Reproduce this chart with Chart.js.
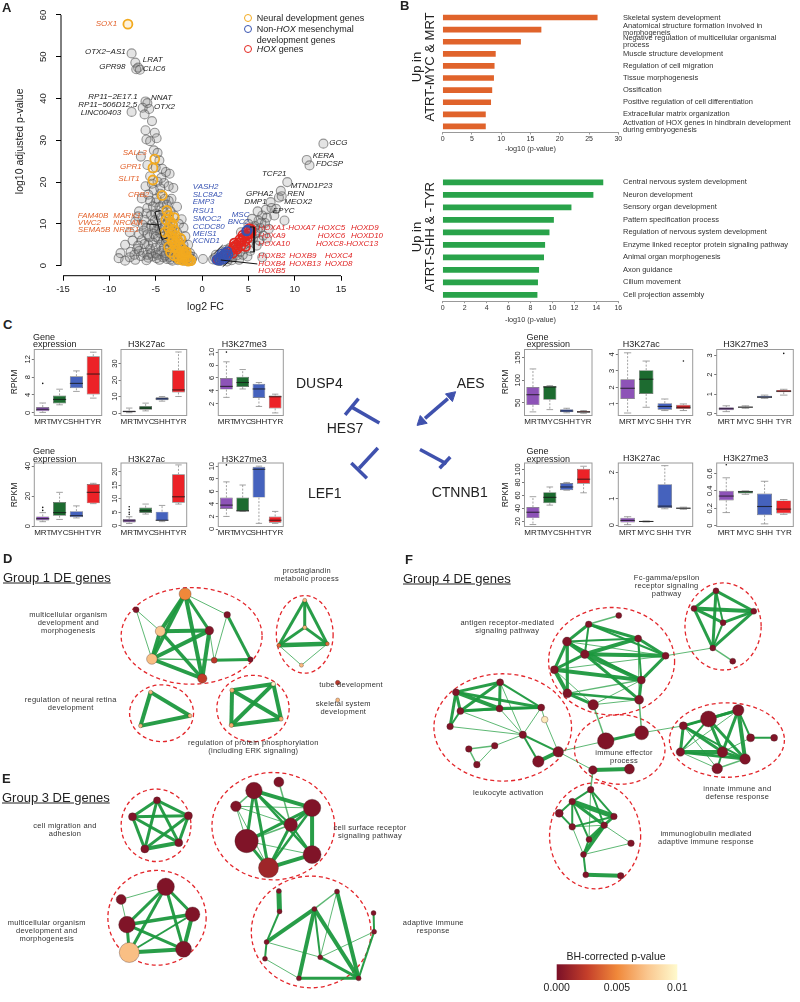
<!DOCTYPE html>
<html>
<head>
<meta charset="utf-8">
<script src="https://cdn.jsdelivr.net/npm/chart.js@4.4.1/dist/chart.umd.min.js"></script>
<style>
  body { margin: 0; background: #fff; }
  #page { position: relative; width: 800px; height: 1002px; overflow: hidden;
          font-family: "Liberation Sans", Arial, sans-serif; color: #222; }
  canvas { position: absolute; }
  .t { position: absolute; white-space: nowrap; line-height: 1; }
  .c { transform: translate(-50%, -50%); text-align: center; }
  .m { transform: translateY(-50%); }
  .net { font-size: 7.5px; line-height: 8px; letter-spacing: 0.25px; color: #333; }
</style>
</head>
<body>
<div id="page"></div>
<script>
// ---------- A: volcano, [log2 FC, log10 adjusted p] ----------
const greyGenes = [
  [-7.6,50.8],[-7.2,48.6],[-6.9,47.4],[-7.1,47.0],[-6.7,46.9],[-6.1,39.3],[-5.9,38.9],[-6.4,37.8],
  [-5.7,37.5],[-7.6,36.8],[-6.2,36.2],[-5.4,34.6],[-6.1,32.4],[-5.1,31.8],[-6.0,30.2],[-4.9,30.5],
  [-5.6,29.8],[-5.2,27.6],[-4.8,27.0],[-6.6,26.1],[-4.6,25.2],[-5.9,24.1],[-4.3,23.2],[-3.9,22.4],
  [-5.6,21.4],[-3.5,22.0],[-4.8,20.1],[-4.1,19.8],[-6.1,19.0],[-3.6,19.0],[-5.2,18.1],[-3.1,18.6],
  [-4.5,17.2],[-6.5,16.1],[-3.3,16.0],[-5.0,15.1],[-3.8,14.6],[-2.7,14.1],[-6.8,13.0],[-4.2,13.1],
  [-5.5,12.1],[-3.0,12.0],[-2.2,11.1],[-7.2,10.5],[-4.8,10.1],[-6.0,9.1],[-3.5,9.0],[-2.0,9.1],
  [-7.8,8.0],[-5.2,7.6],[-4.0,7.1],[-1.8,7.0],[-6.5,6.1],[-3.0,6.0],[-8.3,5.0],[-5.8,5.1],
  [-4.5,5.0],[-2.0,5.0],[-1.5,5.0],[-7.0,4.0],[-3.5,4.1],[-8.8,3.0],[-6.3,3.1],[-5.0,3.0],
  [-2.6,3.0],[-1.3,3.0],[-7.8,2.0],[-4.2,2.0],[-1.0,2.1],[-8.3,1.2],[-6.0,1.3],[-3.2,1.2],
  [-1.2,1.2],[0.1,1.6],[-9.0,1.8],[-4.4,11.5],[-3.7,10.5],[-2.7,8.0],[-4.9,8.5],[-3.2,5.0],
  [-2.3,4.0],[-1.7,2.5],[-3.9,3.0],[-5.5,9.8],[-4.6,14.0],[-5.8,17.0],[-3.4,13.0],[-2.5,10.0],
  [-4.0,16.0],[-5.0,12.5],[-6.2,11.0],[-6.8,7.5],[-7.5,6.0],[-5.6,4.0],[-2.9,2.0],[-3.6,7.8],
  [-4.3,9.0],[-4.7,6.5],[-5.3,5.5],[-4.1,4.4],[-3.3,2.6],[-2.1,1.5],[-1.6,1.8],[-2.4,2.2],
  [-3.8,1.6],[-4.6,1.4],[-5.3,2.2],[-6.6,2.3],[-7.2,1.4],[-2.8,4.6],[-3.9,5.8],[-4.5,7.8],
  [-5.1,10.9],[-5.9,13.8],[-6.3,8.4],[-5.7,6.8],[-6.9,4.8],[-2.2,6.2],[-1.9,3.8],[-3.1,9.6],
  [-3.9,12.0],[-4.9,16.0],[-5.4,19.6],[-4.4,21.0],[-5.0,23.5],[-6.9,11.8],[-7.7,3.3],[-5.9,2.6],
  [-1.9,1.2],[-2.6,1.3],[-3.4,1.5],[-4.0,2.4],[-4.8,2.6],[-2.2,3.1],[-3.0,3.5],[-3.7,3.8],
  [-4.4,3.5],[-5.0,4.3],[-2.5,5.5],[-3.4,5.6],[-4.2,6.0],[-5.0,6.9],[-2.9,6.8],[-3.8,6.6],
  [-4.6,8.8],[-3.2,8.2],[-4.0,9.8],[-5.2,9.2],[-3.6,11.2],[-4.7,12.2],[-4.2,14.8],[-5.3,14.2],
  [-3.6,15.5],[-4.5,18.5],[-5.6,15.5],[-6.0,12.5],[-6.4,9.8],[-5.9,7.5],[-6.2,5.2],[-5.5,2.9],
  [-6.8,3.5],[-7.3,2.6],[-1.4,2.4],[-2.7,2.6],[-3.5,2.1],[-4.9,1.8],[-5.8,1.9],[-1.1,1.6],
  [1.2,1.5],[1.8,1.1],[2.3,2.6],[2.9,1.6],[3.4,3.0],[3.0,4.2],[3.9,4.8],[4.3,6.2],[4.8,7.2],
  [5.2,8.5],[5.7,9.5],[6.1,10.8],[6.5,12.0],[6.9,13.4],[7.4,15.2],[7.0,11.5],[6.3,9.0],[5.5,6.5],
  [4.6,4.0],[3.8,2.5],[4.9,2.2],[6.8,10.2],[7.8,12.0],[8.3,16.3],[8.6,16.6],[8.5,17.9],[9.2,20.0],
  [11.3,25.3],[11.6,24.0],[13.1,29.2],[2.0,1.8],[2.6,3.8],[6.0,13.0],[7.2,8.8],[5.0,10.0],[4.2,8.0],
  [3.5,5.5],[8.0,13.6],[6.6,7.2],[5.9,4.8],[4.0,1.4],[1.5,2.6],[2.7,1.0],[7.5,13.8],[5.4,11.2],
  [6.2,6.0],[3.2,1.3],[5.2,3.5],[4.4,2.6],[7.0,6.5],[8.9,10.8],[6.5,2.0],
  [1.4,1.9],[2.1,1.2],[2.5,1.9],[3.0,2.4],[3.6,3.6],[4.1,3.3],[4.5,5.0],[5.0,5.5],[5.3,7.0],
  [5.8,7.8],[6.0,8.4],[3.3,2.0],[2.2,3.2],[6.4,10.3],[5.6,8.9]
];
const neuralGenes = [
  [-8.0,57.8],[-5.1,25.5],[-5.3,23.4],[-5.3,20.5],[-4.3,16.8],[-3.8,13.2],[-3.6,12.0],[-3.9,11.0],
  [-3.4,10.5],[-3.2,9.8],[-3.6,9.0],[-3.0,8.5],[-3.3,7.8],[-2.8,7.2],[-3.1,6.5],[-2.6,6.0],
  [-2.9,5.3],[-2.4,5.0],[-3.6,4.5],[-2.2,4.2],[-2.7,3.8],[-2.0,3.5],[-2.4,3.0],[-1.8,2.8],
  [-2.2,2.3],[-1.6,2.0],[-1.9,1.7],[-1.4,1.5],[-1.2,1.2],[-2.5,1.6],[-3.0,2.4],[-3.4,3.2],
  [-2.9,4.6],[-2.6,2.2],[-1.5,1.1],[-2.1,1.3],[-3.2,5.8],[-3.5,7.0],[-2.0,2.7],[-1.7,3.3],
  [-2.3,6.5],[-4.0,8.0],[-3.0,11.5]
];
const mesenchymalGenes = [
  [1.6,1.4],[1.8,1.7],[2.0,2.0],[2.2,2.3],[2.4,2.6],[2.5,3.0],[2.7,3.4],[1.9,1.3],[2.3,1.6],
  [2.6,2.1],[2.1,2.8],[2.8,2.6],[4.8,8.3],[4.9,8.5]
];
const hoxGenes = [
  [1.7,1.5],[2.6,3.0],[3.1,3.5],[3.4,4.5],[3.7,5.0],[4.0,5.5],[4.3,6.0],[4.5,6.8],[4.8,7.2],
  [5.0,7.6],[5.2,8.3],[5.3,8.7],[4.6,5.8],[4.2,4.7],[3.8,4.0],[3.3,3.0],[5.1,8.9],[4.9,6.5],
  [3.6,4.3],[4.4,7.3],[5.3,7.8],[4.1,6.3],[3.5,5.4],[4.7,4.6]
];
const orangeText = '#e3632d', blueText = '#3a55b4', redText = '#e02424', blackText = '#222';
const geneLabels = [
  ['SOX1',-11.47,57.85,orangeText],['OTX2−AS1',-12.63,51.1,blackText],['LRAT',-6.4,49.2,blackText],
  ['GPR98',-11.1,47.6,blackText],['CLIC6',-6.4,47.2,blackText],['RP11−2E17.1',-12.27,40.45,blackText],
  ['NNAT',-5.5,40.2,blackText],['RP11−506D12.5',-13.35,38.6,blackText],['OTX2',-5.18,38.0,blackText],
  ['LINC00403',-13.1,36.7,blackText],['SALL3',-8.56,26.9,orangeText],['GPR1',-8.85,23.7,orangeText],
  ['SLIT1',-9.03,20.7,orangeText],['CRB2',-8.0,16.9,orangeText],['FAM40B',-13.4,11.9,orangeText],
  ['MARK1',-9.57,11.9,orangeText],['VWC2',-13.4,10.15,orangeText],['NRCAM',-9.57,10.15,orangeText],
  ['SEMA5B',-13.4,8.55,orangeText],['NR2E1',-9.57,8.55,orangeText],
  ['GCG',13.74,29.3,blackText],['KERA',11.94,26.3,blackText],['FDCSP',12.3,24.3,blackText],
  ['TCF21',6.47,21.95,blackText],['MTND1P23',9.57,19.1,blackText],['GPHA2',4.75,17.2,blackText],
  ['REN',9.2,17.2,blackText],['DMP1',4.57,15.3,blackText],['MEOX2',8.88,15.3,blackText],
  ['EPYC',7.63,13.2,blackText],
  ['VASH2',-1.0,18.9,blueText],['SLC8A2',-1.0,16.9,blueText],['EMP3',-1.0,15.2,blueText],
  ['RSU1',-1.0,13.2,blueText],['SMOC2',-1.0,11.25,blueText],['CCDC80',-1.0,9.3,blueText],
  ['MEIS1',-1.0,7.6,blueText],['KCND1',-1.0,5.9,blueText],['MSC',3.2,12.1,blueText],['BNC2',2.77,10.5,blueText],
  ['HOXA1-HOXA7',6.08,8.95,redText],['HOXA9',6.08,7.2,redText],['HOXA10',6.08,5.35,redText],
  ['HOXC5',12.48,8.95,redText],['HOXC6',12.48,7.2,redText],['HOXC8-HOXC13',12.3,5.35,redText],
  ['HOXD9',16.08,8.95,redText],['HOXD10',16.08,7.2,redText],
  ['HOXB2',6.08,2.3,redText],['HOXB4',6.08,0.56,redText],['HOXB5',6.08,-1.27,redText],
  ['HOXB9',9.42,2.3,redText],['HOXB13',9.42,0.56,redText],['HOXC4',13.27,2.3,redText],['HOXD8',13.27,0.56,redText]
];
const bracketLines = [
  [[-4.48,13.2],[-5.07,12.85],[-4.32,6.27],[-3.78,6.63]],
  [[-5.94,9.98],[-4.75,9.74]],
  [[5.18,9.26],[5.61,9.26],[5.61,3.28],[5.18,3.28]],
  [[1.33,2.97],[2.23,4.95]],
  [[2.02,1.36],[5.97,0.41]],
  [[2.23,-0.24],[3.02,1.2]]
];

// ---------- B: GO terms, -log10 p ----------
const mrtTerms = ['Skeletal system development', ['Anatomical structure formation involved in','morphogeneis'],
  ['Negative regulation of multicellular organismal','process'], 'Muscle structure development',
  'Regulation of cell migration', 'Tissue morphogenesis', 'Ossification',
  'Positive regulation of cell differentiation', 'Extracellular matrix organization',
  ['Activation of HOX genes in hindbrain development','during embryogenesis']];
const mrtScores = [26.4, 16.8, 13.3, 9.0, 8.8, 8.7, 8.4, 8.2, 7.3, 7.3];
const shhTerms = ['Central nervous system development', 'Neuron development', 'Sensory organ development',
  'Pattern specification process', 'Regulation of nervous system development',
  'Enzyme linked receptor protein signaling pathway', 'Animal organ morphogenesis', 'Axon guidance',
  'Cilium movement', 'Cell projection assembly'];
const shhScores = [14.6, 13.7, 11.7, 10.1, 9.7, 9.3, 9.2, 8.75, 8.65, 8.6];

// ---------- C: box plots, RPKM [min, q1, median, q3, max] per group ----------
const tumourGroups = ['MRT', 'MYC', 'SHH', 'TYR'];
const groupColors = ['#8d53b7', '#1d6b30', '#4562bd', '#ec2227'];
const dusp4Expr = [[0.1,0.35,0.8,1.3,2.2],[1.8,2.1,3.0,3.9,5.3],[4.8,5.5,6.6,8.2,9.4],[3.3,4.1,8.7,12.7,13.6]];
const dusp4ExprOut = [[6.6],[],[],[]];
const dusp4Ac = [[0.2,0.5,0.9,1.5,3.0],[1.3,2.0,3.0,4.3,6.0],[7.2,7.8,8.6,9.6,10.0],[10,12.5,14,26,37]];
const dusp4Me3 = [[3.0,4.2,4.7,6.0,8.5],[4.3,4.6,5.3,6.2,7.3],[1.6,2.9,4.3,5.1,5.3],[0.6,1.3,3.1,3.3,3.5]];
const dusp4Me3Out = [[10],[],[],[]];
const lef1Expr = [[3.0,3.8,5.0,6.5,9.0],[4.5,7.0,9.0,16,22.5],[5.5,6.0,7.0,10.0,13.5],[15,15.2,22.5,28,28.5]];
const lef1ExprOut = [[10.5,12.5],[],[],[]];
const lef1Ac = [[0.8,1.2,1.8,2.5,3.3],[4.3,4.7,5.5,6.7,8.0],[1.5,1.8,2.0,5.2,7.5],[8.0,8.5,10.7,19,22.5]];
const lef1AcOut = [[4.2,5.0,6.0,7.0],[],[],[]];
const lef1Me3 = [[2.0,3.2,3.8,5.0,7.5],[2.8,2.8,2.9,5.0,7.0],[0.9,5.0,9.5,9.9,10.0],[0.9,1.0,1.4,2.0,2.8]];
const lef1Me3Out = [[10.2],[],[],[]];
const aesExpr = [[30,45,68,85,125],[35,57,85,87,88],[28,29,32,36,38],[27,28,30,32,33]];
const aesAc = [[0.45,1.3,1.95,2.5,4.1],[0.8,1.6,2.5,3.05,3.6],[0.6,0.65,0.85,1.05,1.3],[0.6,0.7,0.8,0.95,1.0]];
const aesAcOut = [[],[],[],[3.6]];
const aesMe3 = [[0.1,0.17,0.25,0.33,0.4],[0.27,0.3,0.33,0.37,0.4],[0.78,0.8,0.85,0.92,0.95],[0.95,1.1,1.15,1.22,1.25]];
const aesMe3Out = [[],[],[],[3.1]];
const ctnExpr = [[15,25,34,42,58],[45,48,57,65,73],[68,68,73,79,80],[64,78,85,101,105]];
const ctnAc = [[0.02,0.1,0.18,0.28,0.32],[0.12,0.12,0.14,0.16,0.16],[0.62,0.65,0.72,1.55,2.25],[0.6,0.62,0.64,0.67,0.68]];
const ctnMe3 = [[0.15,0.29,0.34,0.4,0.55],[0.36,0.37,0.39,0.4,0.4],[0.02,0.12,0.22,0.37,0.51],[0.13,0.14,0.19,0.29,0.3]];
const ctnMe3Out = [[0.7],[],[],[]];

// ---------- C centre: HES7 interaction sketch (page px) ----------
const inhibitLines = [
  [[348.3,404],[378.3,421.7]], [[341.7,412.7],[356,395]],
  [[356.7,471.7],[376.7,449.3]], [[348.3,466],[365,482.7]],
  [[421.7,451],[450,466.7]], [[454,459.3],[442.7,471.7]]
];
const activateLine = [[427,416.6],[451.5,394.8]];
const activateHeads = [[455,391.7,48],[423.3,420,228]];

// ---------- D/E/F: enrichment networks [x, y, radius, BH p] (page px) ----------
const groupOneNodes = [
  [178.3,584,6,0.005],[127.7,600.7,3,0.0002],[152.7,623.3,5,0.0075],[203.3,622.7,4.3,0.0003],
  [221.7,606,3.3,0.0002],[144,652.7,5.3,0.0072],[208.3,654,3,0.0022],[245.7,653.3,2.7,0.0002],
  [196,673.3,4.7,0.0024],[301.7,590.7,2,0.007],[301.7,619.3,2,0.007],[275,638.3,2,0.004],
  [325,636.7,2,0.004],[298.3,659.3,2,0.007],[142.7,687.7,2,0.007],[183.3,712.7,2,0.007],
  [132.3,723.3,2,0.007],[226.7,685.7,2.2,0.0068],[269.3,679,2.2,0.0098],[277.3,716,2.2,0.0065],
  [226,722.7,2.2,0.0065],[335.7,677.7,2.3,0.0022],[335.7,696,2,0.007]
];
const groupOneEdges = [
  [0,2,4],[0,5,4],[0,3,3],[0,8,4],[0,4,1],[1,2,1],[1,5,1],[2,3,4],[2,5,4],[2,8,3.5],[5,3,4],[5,8,4],
  [5,6,1],[5,7,1],[6,7,3],[3,8,4],[4,6,1],[4,7,3],[3,6,1],
  [9,10,3],[9,11,3],[9,12,3],[10,11,3],[10,12,3],[11,12,4.5],[11,13,1],[12,13,1],
  [14,15,4],[15,16,4],[14,16,4],[17,18,4],[18,19,4],[19,20,4],[20,17,4],[17,19,4],[18,20,4]
];
const groupThreeNodes = [
  [149.3,802,3.5,0.0002],[124,819.3,4,0.0002],[181.7,818.3,4,0.0002],[171.7,846.7,4,0.0002],[136.7,853.3,4,0.0002],
  [249.3,791.7,8.3,0.0002],[275,782.7,5,0.0002],[230.7,808.3,5.3,0.0002],[309.3,810,8.7,0.0002],
  [287.3,827.7,6.7,0.0002],[241.7,845,11.7,0.0002],[309.3,859.3,9,0.0002],[264.3,873.3,10,0.0012],
  [158.3,893.3,8.7,0.0002],[112.3,906.7,5,0.0002],[186,922.3,7.3,0.0002],[118.3,933.3,8.3,0.0002],
  [176.7,959.3,8,0.0002],[120.7,962.7,10,0.0072],
  [275,897.7,2.5,0.0002],[335,898.3,2.5,0.0002],[275.7,919.3,2.5,0.0002],[311.7,916.7,2.5,0.0002],
  [372.7,921,2.5,0.0002],[373.3,940.7,2.5,0.0002],[262.3,951.7,2.5,0.0002],[260.7,969.3,2.5,0.0002],
  [317.7,967.7,2.5,0.0002],[295.7,990,2.5,0.0002],[357.3,990,2.5,0.0002]
];
const groupThreeEdges = [
  [0,1,3],[0,2,3],[0,3,3],[0,4,3],[1,2,3],[1,3,3],[1,4,3],[2,3,3],[2,4,3],[3,4,4],
  [5,7,1.5],[5,8,4],[5,10,3],[5,12,3],[5,11,2.5],[5,9,2],[6,9,1.5],[7,8,1],[7,10,1],[7,9,1],
  [8,9,3],[8,10,3],[8,11,4],[8,12,2.5],[9,10,1.5],[9,12,3],[9,11,2],[10,12,3],[11,12,4],[10,11,1],[7,12,1],
  [13,14,1],[13,15,3],[13,16,3],[13,17,3],[13,18,3],[14,16,1],[15,16,3.5],[15,17,4],[15,18,2],
  [16,17,3],[16,18,3],[17,18,4],
  [19,21,5],[21,25,2],[25,26,2],[25,22,4],[22,20,1.5],[22,28,4],[22,29,4],[22,27,2],[20,27,1],
  [20,29,4],[23,24,2],[24,29,2],[24,27,1],[26,28,1],[28,29,3],[25,27,1],[27,29,3]
];
const groupFourNodes = [
  [726,580.7,3,0.0002],[703.3,599.3,3,0.0002],[765,602.3,3,0.0002],[733.3,614.3,3,0.0002],
  [722.7,641,3,0.0002],[743.3,655,3,0.0002],
  [625.7,606.7,3,0.0002],[594.7,616,3.3,0.0002],[572.3,634.3,4.5,0.0002],[645.7,631,3.5,0.0002],
  [590.7,647.7,4.3,0.0002],[674,649.3,3.5,0.0002],[559.3,664,4,0.0002],[649,675,4,0.0002],
  [572.7,689,4.5,0.0002],[646.7,695.7,4.5,0.0002],[599.3,701,5.3,0.0002],
  [457.7,687.7,3.5,0.0002],[503.3,677.3,3.5,0.0002],[462.3,707.7,3.5,0.0002],[502.7,705,3.5,0.0002],
  [545.7,704,3.5,0.0002],[451.7,724,3.3,0.0002],[549.3,716.7,3.3,0.0092],[526.7,732.7,3.7,0.0002],
  [497.7,744.3,3.3,0.0002],[471,747.7,3.3,0.0002],[479.3,764.3,3.3,0.0002],[563.3,750.7,5.3,0.0002],
  [542.7,761,5.7,0.0002],
  [612.3,739.3,8.3,0.0002],[649.3,730.7,7,0.0002],[599,770,4.3,0.0002],[636.7,769,5,0.0002],
  [718.3,716,8,0.0002],[749,706.7,5.7,0.0002],[692.3,723.3,4,0.0002],[761.7,736,4,0.0002],
  [786,736,3.5,0.0002],[689.3,751,4.3,0.0002],[732.7,751,5.3,0.0002],[756,758.3,5.3,0.0002],
  [727.3,768.3,5.3,0.0002],
  [596.7,790.7,3.3,0.0002],[577.7,803.3,3.3,0.0002],[564.3,815.7,4,0.0002],[620.7,819,3.3,0.0002],
  [577.7,830,3.3,0.0002],[610.7,828.3,3.3,0.0002],[595,843.3,3,0.0002],[638.3,847.3,3.3,0.0002],
  [589.3,859.3,3,0.0002],[591.7,880.7,3,0.0002],[627.7,881.7,3.3,0.0002]
];
const groupFourEdges = [
  [0,1,3],[0,2,3],[0,3,2],[0,4,3],[1,2,4],[1,3,3],[1,4,3],[2,3,3],[2,4,3],[3,4,2],[4,5,1.5],
  [6,7,1.5],[7,8,3],[7,9,3],[7,11,2],[8,9,2],[8,10,4],[8,12,3],[8,14,3],[8,11,1],[9,10,4],[9,11,3],
  [9,13,2],[10,11,4],[10,13,4],[10,12,3],[10,15,3],[12,13,4],[12,14,4],[12,16,1],[13,14,1.5],
  [13,15,3],[14,16,3],[14,15,2.5],[15,16,1],[11,13,3],[16,13,1],[9,15,1],[12,11,1],[7,10,2],[8,13,2],
  [17,18,3],[17,19,3],[17,20,4],[17,21,3],[17,22,3],[18,19,3],[18,20,3],[18,21,2],[19,20,3],[19,21,2],
  [19,22,2],[20,21,3],[22,24,1],[20,24,1],[18,24,1],[21,23,1],[24,21,1],[24,28,2],[24,29,2],
  [25,26,1.5],[26,27,1.5],[25,27,1],[25,24,1],[28,29,4],[23,28,1],[19,24,1],
  [30,31,3],[32,33,4],[28,30,1],[32,28,1],[16,30,1.5],[15,31,1.5],[31,36,1],[32,43,1.5],[11,4,1],
  [34,35,3],[34,36,2],[34,39,2],[34,40,3],[34,41,3],[35,36,3],[35,40,3],[35,41,4],[35,37,2],[36,39,3],
  [36,40,3],[36,41,2],[37,38,2],[39,40,4],[39,41,3],[40,41,3],[40,42,2],[41,42,1.5],[39,42,1],
  [36,42,1],[37,40,1],[35,39,1],
  [43,44,2],[43,46,2],[43,48,2],[44,45,2],[44,46,5],[44,47,2],[44,48,3],[44,49,2],[46,48,3],[46,47,2],
  [47,48,1],[48,49,4],[48,51,4],[48,50,1],[49,51,2],[50,51,1],[51,52,2],[52,53,4],[45,47,2],[43,49,1],[47,51,1]
];
const groupOneOvals = [[185,628.3,72.7,51],[301.7,626.7,29.3,41],[154,710,33,30],[248.3,705,37.3,35]];
const groupThreeOvals = [[148.3,828.3,36,38.3],[269.3,829.3,63.3,56.7],[149.3,926,50.7,50],[308.3,941,61.7,59]];
const groupFourOvals = [[733.3,618.3,39.3,46],[618.3,655,65,56.7],[506,725,71,56.7],[626.7,748.3,46.7,36.7],
  [737.3,738.3,59.3,39.3],[601.3,839.5,47,56]];

// colour scale of the BH-corrected p-value
const pStops = [0, 0.0025, 0.005, 0.0075, 0.01];
const pColors = [[122,16,40],[196,62,42],[240,136,58],[250,198,142],[255,250,205]];
const pTicks = [0, 0.005, 0.01];

function pColor(p) {
  let i = 0;
  while (i < pStops.length - 2 && p > pStops[i + 1]) i++;
  const f = Math.min(1, Math.max(0, (p - pStops[i]) / (pStops[i + 1] - pStops[i])));
  const c = pColors[i].map((v, k) => Math.round(v + (pColors[i + 1][k] - v) * f));
  return `rgb(${c[0]},${c[1]},${c[2]})`;
}

Chart.defaults.font.family = '"Liberation Sans", Arial, sans-serif';
Chart.defaults.color = '#222';
Chart.defaults.animation = false;
Chart.defaults.responsive = false;
Chart.defaults.devicePixelRatio = 1;
Chart.defaults.plugins.legend.display = false;
Chart.defaults.plugins.tooltip.enabled = false;

const page = document.getElementById('page');
function addCanvas(x, y, w, h) {
  const c = document.createElement('canvas');
  c.width = w; c.height = h;
  c.style.left = x + 'px'; c.style.top = y + 'px';
  page.appendChild(c);
  return c;
}
function addText(html, x, y, size, cls = 'c', extra = '') {
  const d = document.createElement('div');
  d.className = 't ' + cls;
  d.innerHTML = html;
  d.style.cssText = `left:${x}px;top:${y}px;font-size:${size}px;` + extra;
  page.appendChild(d);
  return d;
}

// R-like axes: line only over tick range, rotated y labels, optional frame
const rAxis = {
  id: 'rAxis',
  afterDraw(chart, args, o) {
    const {ctx, chartArea: a} = chart;
    const x = chart.scales.x, y = chart.scales.y;
    ctx.save();
    ctx.strokeStyle = o.color || '#000';
    ctx.lineWidth = 1;
    if (o.xLine) {
      ctx.beginPath();
      ctx.moveTo(x.getPixelForValue(o.xLine[0]), a.bottom);
      ctx.lineTo(x.getPixelForValue(o.xLine[1]), a.bottom);
      ctx.stroke();
    }
    if (o.yLine) {
      ctx.beginPath();
      ctx.moveTo(a.left, y.getPixelForValue(o.yLine[0]));
      ctx.lineTo(a.left, y.getPixelForValue(o.yLine[1]));
      ctx.stroke();
    }
    if (o.frame) {
      ctx.strokeStyle = '#9a9a9a';
      ctx.strokeRect(a.left, a.top, a.right - a.left, a.bottom - a.top);
    }
    if (o.yLabels) {
      ctx.fillStyle = '#222';
      ctx.font = `${o.yLabels.size}px "Liberation Sans", Arial`;
      ctx.textAlign = 'center';
      ctx.textBaseline = 'middle';
      y.ticks.forEach(t => {
        ctx.save();
        ctx.translate(a.left - o.yLabels.offset, y.getPixelForValue(t.value));
        ctx.rotate(-Math.PI / 2);
        ctx.fillText(String(t.value), 0, 0);
        ctx.restore();
      });
    }
    ctx.restore();
  }
};

const geneText = {
  id: 'geneText',
  afterDatasetsDraw(chart) {
    const {ctx, scales: {x, y}} = chart;
    ctx.save();
    ctx.font = 'italic 8px "Liberation Sans", Arial';
    ctx.textBaseline = 'middle';
    geneLabels.forEach(([t, vx, vy, c]) => {
      ctx.fillStyle = c;
      ctx.fillText(t, x.getPixelForValue(vx), y.getPixelForValue(vy));
    });
    ctx.restore();
  }
};

// ---- A ----
const toXY = a => a.map(([x, y]) => ({x, y}));
new Chart(addCanvas(0, 0, 400, 315), {
  type: 'scatter',
  data: {
    datasets: [
      {data: toXY(greyGenes), pointRadius: 4.5, borderWidth: 1.1, borderColor: 'rgba(85,85,85,0.6)',
       backgroundColor: 'rgba(120,120,120,0.2)', order: 5},
      {data: toXY(neuralGenes), pointRadius: 4.5, borderWidth: 1.8, borderColor: '#f2aa1f',
       backgroundColor: 'rgba(242,170,31,0.15)', order: 4},
      {data: toXY(hoxGenes), pointRadius: 4.5, borderWidth: 1.6, borderColor: '#e3261f',
       backgroundColor: 'rgba(227,38,31,0.1)', order: 3},
      {data: toXY(mesenchymalGenes), pointRadius: 4.5, borderWidth: 1.6, borderColor: '#3753b0',
       backgroundColor: 'rgba(55,83,176,0.1)', order: 2},
      ...bracketLines.map(seg => ({data: toXY(seg), showLine: true, pointRadius: 0, borderColor: '#111',
        borderWidth: 1, order: 1}))
    ]
  },
  options: {
    layout: {padding: {left: 0, top: 7, right: 50, bottom: 0}},
    scales: {
      x: {min: -15.22, max: 15.97,
          afterBuildTicks: s => { s.ticks = [-15, -10, -5, 0, 5, 10, 15].map(v => ({value: v})); },
          afterFit: s => { s.height = 39.3; },
          grid: {drawOnChartArea: false, tickLength: 5, color: '#000'}, border: {display: false},
          ticks: {font: {size: 9.5}, padding: 3, maxRotation: 0, color: '#222'},
          title: {display: true, text: 'log2 FC', font: {size: 10.5}, padding: {top: 0, bottom: 2}, color: '#222'}},
      y: {min: -2.4, max: 61.9,
          afterBuildTicks: s => { s.ticks = [0, 10, 20, 30, 40, 50, 60].map(v => ({value: v})); },
          afterFit: s => { s.width = 61; },
          grid: {drawOnChartArea: false, tickLength: 5, color: '#000'}, border: {display: false},
          ticks: {display: false},
          title: {display: true, text: 'log10 adjusted p-value', font: {size: 10.5}, padding: {top: 14}, color: '#222'}}
    },
    plugins: {rAxis: {xLine: [-15, 15], yLine: [0, 60], yLabels: {size: 9.5, offset: 18}}}
  },
  plugins: [rAxis, geneText]
});

// ---- B ----
function termChart(x, y, w, h, padTop, axisH, terms, scores, colour, max, step, titlePad) {
  return new Chart(addCanvas(x, y, w, h), {
    type: 'bar',
    data: {labels: terms, datasets: [{data: scores, backgroundColor: colour, barThickness: 5}]},
    options: {
      indexAxis: 'y',
      layout: {padding: {left: 42.7, top: padTop, right: 0, bottom: 0}},
      scales: {
        x: {min: 0, max: max,
            afterBuildTicks: s => { const t = []; for (let v = 0; v <= max; v += step) t.push({value: v}); s.ticks = t; },
            afterFit: s => { s.height = axisH; },
            grid: {drawOnChartArea: false, tickLength: 2, color: '#999'}, border: {display: true, color: '#999'},
            ticks: {font: {size: 7}, padding: 0.5, color: '#333', maxRotation: 0},
            title: {display: true, text: '-log10 (p-value)', font: {size: 7.3}, padding: {top: 0, bottom: titlePad}, color: '#333'}},
        y: {position: 'right', afterFit: s => { s.width = 181.7; },
            grid: {display: false, drawTicks: false}, border: {display: false},
            ticks: {font: {size: 7.5, lineHeight: 0.9}, padding: 4.7, color: '#333', autoSkip: false}}
      }
    }
  });
}
termChart(400, 0, 400, 156, 0.5, 23.5, mrtTerms, mrtScores, '#e0632b', 30, 5, 2.9);
termChart(400, 168, 400, 160, 3.9, 26.8, shhTerms, shhScores, '#29a34a', 16, 2, 3.2);

// ---- C ----
const boxPlugin = {
  id: 'boxes',
  afterDatasetsDraw(chart, args, o) {
    const {ctx} = chart, x = chart.scales.x, y = chart.scales.y;
    const meta = chart.getDatasetMeta(0);
    ctx.save();
    o.stats.forEach((s, i) => {
      const cx = x.getPixelForValue(i), bw = meta.data[i].width;
      ctx.strokeStyle = '#8a8a8a'; ctx.lineWidth = 0.8;
      ctx.setLineDash([2, 1.5]);
      ctx.beginPath();
      ctx.moveTo(cx, y.getPixelForValue(s[3])); ctx.lineTo(cx, y.getPixelForValue(s[4]));
      ctx.moveTo(cx, y.getPixelForValue(s[1])); ctx.lineTo(cx, y.getPixelForValue(s[0]));
      ctx.stroke();
      ctx.setLineDash([]);
      ctx.beginPath();
      [s[0], s[4]].forEach(v => { const py = y.getPixelForValue(v); ctx.moveTo(cx - bw * 0.25, py); ctx.lineTo(cx + bw * 0.25, py); });
      ctx.stroke();
      ctx.strokeStyle = 'rgba(20,20,20,0.75)'; ctx.lineWidth = 1.1;
      ctx.beginPath();
      const my = y.getPixelForValue(s[2]);
      ctx.moveTo(cx - bw / 2, my); ctx.lineTo(cx + bw / 2, my);
      ctx.stroke();
      ctx.fillStyle = '#111';
      ((o.out || [])[i] || []).forEach(v => {
        ctx.beginPath(); ctx.arc(cx, y.getPixelForValue(v), 0.8, 0, Math.PI * 2); ctx.fill();
      });
    });
    ctx.restore();
  }
};

function boxChart(frame, stats, out, range, ticks) {
  const [l, t, r, b] = frame;
  const L = Math.floor(l) - 34, T = Math.floor(t) - 1;
  const W = Math.ceil(r) + 3 - L, H = Math.ceil(b) + 15 - T;
  new Chart(addCanvas(L, T, W, H), {
    type: 'bar',
    data: {labels: tumourGroups, datasets: [{data: stats.map(s => [s[1], s[3]]), backgroundColor: groupColors,
      borderColor: '#6a6a6a', borderWidth: 0.7, borderSkipped: false, barPercentage: 0.78, categoryPercentage: 1}]},
    options: {
      layout: {padding: {left: 0, top: t - T, right: L + W - r, bottom: 0}},
      scales: {
        x: {grid: {display: false, drawTicks: false}, border: {display: false},
            ticks: {font: {size: 8}, padding: 1.5, maxRotation: 0, minRotation: 0, autoSkip: false, color: '#222'},
            afterFit: s => { s.height = T + H - b; }},
        y: {min: range[0], max: range[1],
            afterBuildTicks: s => { s.ticks = ticks.map(v => ({value: v})); },
            afterFit: s => { s.width = l - L; },
            ticks: {display: false}, border: {display: false},
            grid: {drawOnChartArea: false, tickLength: 2.5, color: '#777'}}
      },
      plugins: {rAxis: {frame: true, yLabels: {size: 7.5, offset: 6.5}}, boxes: {stats, out}}
    },
    plugins: [rAxis, boxPlugin]
  });
}
boxChart([34.3, 349.5, 101.7, 415.5], dusp4Expr, dusp4ExprOut, [-0.6, 14.2], [0, 4, 8, 12]);
boxChart([121, 349.5, 186.7, 415.5], dusp4Ac, [], [-1.5, 38.5], [0, 10, 20, 30]);
boxChart([218.3, 349.5, 283.3, 415.5], dusp4Me3, dusp4Me3Out, [0.2, 10.4], [2, 4, 6, 8, 10]);
boxChart([34.3, 463, 101.7, 526.5], lef1Expr, lef1ExprOut, [-0.2, 42], [0, 20, 40]);
boxChart([121, 463, 186.7, 526.5], lef1Ac, lef1AcOut, [-0.3, 23.2], [0, 5, 10, 15, 20]);
boxChart([218.3, 463, 283.3, 526.5], lef1Me3, lef1Me3Out, [0.4, 10.5], [0, 2, 4, 6, 8, 10]);
boxChart([524.5, 349.5, 592, 415.5], aesExpr, [], [22, 168], [50, 100, 150]);
boxChart([618.3, 349.5, 692.7, 415.5], aesAc, aesAcOut, [0.3, 4.3], [1, 2, 3, 4]);
boxChart([716.7, 349.5, 793.3, 415.5], aesMe3, aesMe3Out, [-0.1, 3.3], [0, 1, 2, 3]);
boxChart([524.5, 463, 592, 526.5], ctnExpr, [], [12, 110], [20, 40, 60, 80, 100]);
boxChart([618.3, 463, 692.7, 526.5], ctnAc, [], [-0.05, 2.35], [0, 1, 2]);
boxChart([716.7, 463, 793.3, 526.5], ctnMe3, ctnMe3Out, [-0.01, 0.72], [0, 0.2, 0.4, 0.6]);

// HES7 sketch
new Chart(addCanvas(285, 360, 220, 150), {
  type: 'scatter',
  data: {datasets: [
    {data: activateHeads.map(([x, y]) => ({x, y})), pointStyle: 'triangle', pointRadius: 6,
     rotation: activateHeads.map(h => h[2]), backgroundColor: '#3f51ad', borderColor: '#3f51ad', borderWidth: 1},
    {data: toXY(activateLine), showLine: true, pointRadius: 0, borderColor: '#3f51ad', borderWidth: 3.5},
    ...inhibitLines.map(seg => ({data: toXY(seg), showLine: true, pointRadius: 0, borderColor: '#3f51ad',
      borderWidth: 3.5, borderCapStyle: 'butt'}))
  ]},
  options: {
    layout: {padding: 0},
    scales: {x: {display: false, min: 285, max: 505}, y: {display: false, min: 360, max: 510, reverse: true}}
  }
});

// ---- D / E / F networks ----
const ovals = {
  id: 'ovals',
  beforeDatasetsDraw(chart, args, o) {
    const {ctx, scales: {x, y}} = chart;
    ctx.save();
    ctx.strokeStyle = '#e3262b'; ctx.lineWidth = 1.3; ctx.setLineDash([4, 3]);
    o.list.forEach(([cx, cy, rx, ry]) => {
      const px = x.getPixelForValue(cx), py = y.getPixelForValue(cy);
      ctx.beginPath();
      ctx.ellipse(px, py, Math.abs(x.getPixelForValue(cx + rx) - px), Math.abs(y.getPixelForValue(cy + ry) - py), 0, 0, Math.PI * 2);
      ctx.stroke();
    });
    ctx.restore();
  }
};
const allNodes = [groupOneNodes, groupThreeNodes, groupFourNodes];
const allEdges = [groupOneEdges, groupThreeEdges, groupFourEdges];
const edgeSets = [];
allEdges.forEach((edges, g) => edges.forEach(([a, b, w]) => {
  const na = allNodes[g][a], nb = allNodes[g][b];
  edgeSets.push({type: 'scatter', showLine: true, pointRadius: 0, order: 2,
    data: [{x: na[0], y: na[1]}, {x: nb[0], y: nb[1]}],
    borderColor: w < 1.6 ? 'rgba(40,160,70,0.75)' : 'rgba(28,152,62,0.95)', borderWidth: w});
}));
const nodeList = allNodes.flat();
new Chart(addCanvas(0, 540, 800, 462), {
  type: 'scatter',
  data: {datasets: [
    {type: 'bubble', order: 1, data: nodeList.map(([x, y, r]) => ({x, y, r})),
     backgroundColor: nodeList.map(n => pColor(n[3])), borderColor: 'rgba(70,40,40,0.55)', borderWidth: 0.6},
    ...edgeSets
  ]},
  options: {
    layout: {padding: 0},
    scales: {x: {display: false, min: 0, max: 800}, y: {display: false, min: 540, max: 1002, reverse: true}},
    plugins: {ovals: {list: [...groupOneOvals, ...groupThreeOvals, ...groupFourOvals]}}
  },
  plugins: [ovals]
});

// colour bar
const gradientBar = {
  id: 'gradientBar',
  beforeDatasetsDraw(chart) {
    const {ctx, chartArea: a, scales: {x}} = chart;
    const x0 = x.getPixelForValue(pStops[0]), x1 = x.getPixelForValue(pStops[pStops.length - 1]);
    const g = ctx.createLinearGradient(x0, 0, x1, 0);
    pStops.forEach(p => g.addColorStop(p / pStops[pStops.length - 1], pColor(p)));
    ctx.fillStyle = g;
    ctx.fillRect(x0, a.top, x1 - x0, a.bottom - a.top);
  }
};
new Chart(addCanvas(530, 950, 180, 50), {
  type: 'scatter',
  data: {datasets: [{data: []}]},
  options: {
    layout: {padding: {left: 26.7, right: 32.7, top: 14.3, bottom: 0}},
    scales: {
      x: {min: 0, max: 0.01, afterBuildTicks: s => { s.ticks = pTicks.map(v => ({value: v})); },
          afterFit: s => { s.height = 20; },
          grid: {display: false, drawTicks: false}, border: {display: false},
          ticks: {font: {size: 10.5}, padding: 2, color: '#222', maxRotation: 0,
                  callback: v => v === 0.01 ? '0.01' : v.toFixed(3)}},
      y: {display: false, min: 0, max: 1}
    }
  },
  plugins: [gradientBar]
});

// ---------- text ----------
const letter = 'font-weight:bold;';
addText('A', 2, 7, 13, 'm', letter);
addText('B', 400, 5, 13, 'm', letter);
addText('C', 3, 323.5, 13, 'm', letter);
addText('D', 3, 557.5, 13, 'm', letter);
addText('E', 2, 778, 13, 'm', letter);
addText('F', 405, 559, 13, 'm', letter);

// A legend
[[18.3, '#f2aa1f'], [29.3, '#3753b0'], [49.3, '#e3261f']].forEach(([y, c]) => {
  addText('', 248.3, y, 9, 'c', `width:6px;height:6px;border:1.8px solid ${c};border-radius:50%;`);
});
addText('Neural development genes', 256.7, 18.3, 9, 'm');
addText('Non-<i>HOX</i> mesenchymal', 256.7, 29.3, 9, 'm');
addText('development genes', 256.7, 39.8, 9, 'm');
addText('<i>HOX</i> genes', 256.7, 49.3, 9, 'm');

// B side labels
addText('Up in<br>ATRT-MYC &amp; MRT', 422.5, 67, 13, 'c', 'line-height:13px;transform:translate(-50%,-50%) rotate(-90deg);');
addText('Up in<br>ATRT-SHH &amp; -TYR', 422.5, 237, 13, 'c', 'line-height:13px;transform:translate(-50%,-50%) rotate(-90deg);');

// C titles
const geneTitle = 'Gene<br>expression';
[[33, 340.8], [33, 455.2], [526.5, 340.8], [526.5, 455.2]].forEach(([x, y]) =>
  addText(geneTitle, x, y, 9, 'm', 'line-height:7.4px;'));
[[128, 344], [622.7, 344], [128, 458.5], [623, 457.5]].forEach(([x, y]) => addText('H3K27ac', x, y, 9, 'm'));
[[221.7, 344], [723.3, 344], [221.7, 458.5], [723.3, 457.5]].forEach(([x, y]) => addText('H3K27me3', x, y, 9, 'm'));
[[14.3, 382], [14.3, 495], [505, 382], [505, 495]].forEach(([x, y]) =>
  addText('RPKM', x, y, 8.5, 'c', 'transform:translate(-50%,-50%) rotate(-90deg);'));
addText('DUSP4', 296, 383.3, 14, 'm');
addText('HES7', 345, 428, 14, 'c');
addText('LEF1', 308, 492.5, 14, 'm');
addText('AES', 456.7, 383, 14, 'm');
addText('CTNNB1', 431.7, 491.5, 14, 'm');

// network titles and labels
const ul = 'text-decoration:underline;';
addText('Group 1 DE genes', 3, 576.7, 13, 'm', ul);
addText('Group 3 DE genes', 2, 796.7, 13, 'm', ul);
addText('Group 4 DE genes', 403, 577.7, 13, 'm', ul);
const netLabels = [
  ['prostaglandin<br>metabolic process', 306.7, 574.8],
  ['multicellular organism<br>development and<br>morphogenesis', 68.3, 622.7],
  ['regulation of neural retina<br>development', 70.7, 704],
  ['regulation of protein phosphorylation<br>(including ERK signaling)', 253.3, 746.5],
  ['tube development', 351, 685],
  ['skeletal system<br>development', 343.3, 708.3],
  ['cell migration and<br>adhesion', 65, 830],
  ['cell surface receptor<br>signaling pathway', 370, 832],
  ['multicellular organism<br>development and<br>morphogenesis', 46.7, 930.7],
  ['adaptive immune<br>response', 433.3, 926.7],
  ['Fc-gamma/epsilon<br>receptor signaling<br>pathway', 666.7, 586],
  ['antigen receptor-mediated<br>signaling pathway', 507.3, 626.7],
  ['leukocyte activation', 508.3, 792.7],
  ['immune effector<br>process', 624, 756.7],
  ['innate immune and<br>defense response', 737.3, 792.5],
  ['immunoglobulin mediated<br>adaptive immune response', 706, 838.3]
];
netLabels.forEach(([t, x, y]) => { addText(t, x, y, 7.5, 'c net'); });
addText('BH-corrected p-value', 616, 955.7, 10.5, 'c');
</script>
</body>
</html>
